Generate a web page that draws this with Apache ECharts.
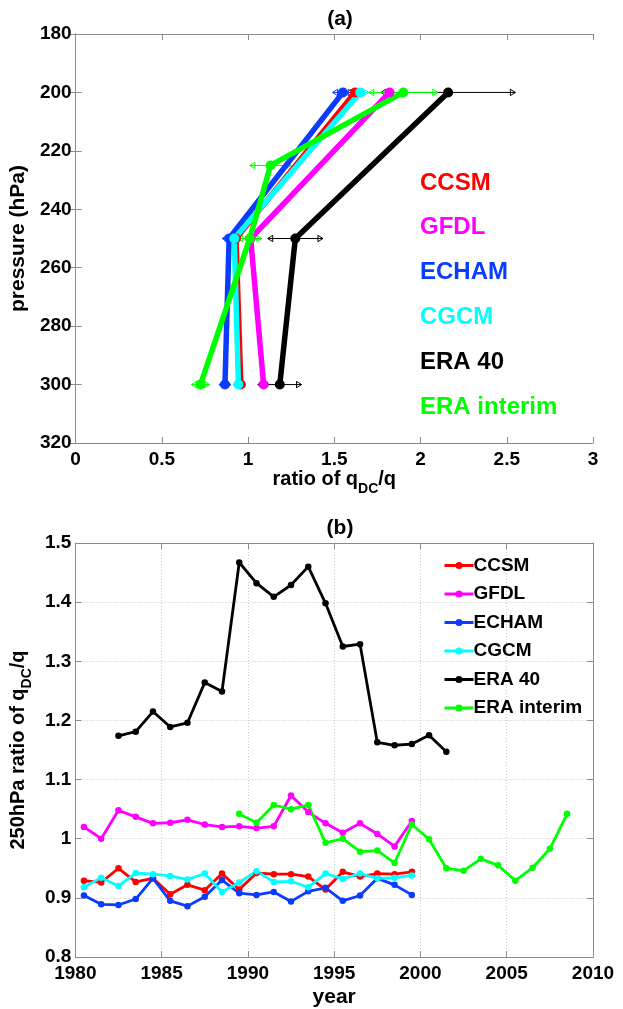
<!DOCTYPE html>
<html><head><meta charset="utf-8">
<script src="https://cdn.jsdelivr.net/npm/echarts@6/dist/echarts.min.js"></script>
<style>html,body{margin:0;padding:0;background:#fff}#c{width:623px;height:1009px}</style>
</head><body><div id="c"></div>
<script>
// ---------- shared ----------
const names = ['CCSM', 'GFDL', 'ECHAM', 'CGCM', 'ERA 40', 'ERA interim'];
const colors = ['#ff0000', '#ff00ff', '#0a3cff', '#00ffff', '#000000', '#00ff00'];

// ---------- panel (a): vertical profiles ----------
const xTicksA = [0, 0.5, 1, 1.5, 2, 2.5, 3];
const yTicksA = [180, 200, 220, 240, 260, 280, 300, 320];
const levelsModel = [200, 250, 300];
const levelsERAI = [200, 225, 250, 300];
const profCCSM = [1.62, 0.93, 0.958];
const profGFDL = [1.82, 1.015, 1.09];
const profECHAM = [1.55, 0.89, 0.866];
const profCGCM = [1.65, 0.92, 0.944];
const profERA40 = [2.16, 1.274, 1.184];
const profERAI = [1.90, 1.13, 1.01, 0.724];
const errCCSM = [0.05, 0.03, 0.03];
const errGFDL = [0.03, 0.03, 0.035];
const errECHAM = [0.06, 0.04, 0.035];
const errCGCM = [0.05, 0.04, 0.03];
const errERA40 = [0.39, 0.16, 0.126];
const errERAI = [0.2, 0.12, 0.07, 0.053];

// ---------- panel (b): 250 hPa time series ----------
const xTicksB = [1980, 1985, 1990, 1995, 2000, 2005, 2010];
const yTicksB = [0.8, 0.9, 1.0, 1.1, 1.2, 1.3, 1.4, 1.5];
const yearsModel = [1980.5, 1981.5, 1982.5, 1983.5, 1984.5, 1985.5, 1986.5, 1987.5, 1988.5, 1989.5,
  1990.5, 1991.5, 1992.5, 1993.5, 1994.5, 1995.5, 1996.5, 1997.5, 1998.5, 1999.5];
const yearsERA40 = [1982.5, 1983.5, 1984.5, 1985.5, 1986.5, 1987.5, 1988.5, 1989.5, 1990.5, 1991.5,
  1992.5, 1993.5, 1994.5, 1995.5, 1996.5, 1997.5, 1998.5, 1999.5, 2000.5, 2001.5];
const yearsERAI = [1989.5, 1990.5, 1991.5, 1992.5, 1993.5, 1994.5, 1995.5, 1996.5, 1997.5, 1998.5,
  1999.5, 2000.5, 2001.5, 2002.5, 2003.5, 2004.5, 2005.5, 2006.5, 2007.5, 2008.5];
const tsCCSM = [0.929, 0.926, 0.950, 0.927, 0.933, 0.906, 0.922, 0.913, 0.941, 0.914,
  0.942, 0.940, 0.940, 0.936, 0.914, 0.944, 0.936, 0.941, 0.940, 0.944];
const tsGFDL = [1.020, 1.000, 1.048, 1.037, 1.026, 1.027, 1.032, 1.024, 1.020, 1.021,
  1.018, 1.021, 1.073, 1.045, 1.026, 1.010, 1.026, 1.008, 0.987, 1.030];
const tsECHAM = [0.904, 0.889, 0.888, 0.898, 0.933, 0.895, 0.886, 0.902, 0.930, 0.908,
  0.905, 0.910, 0.894, 0.911, 0.917, 0.895, 0.904, 0.933, 0.922, 0.905];
const tsCGCM = [0.918, 0.934, 0.920, 0.942, 0.940, 0.937, 0.931, 0.941, 0.910, 0.926,
  0.945, 0.927, 0.928, 0.918, 0.941, 0.932, 0.941, 0.933, 0.934, 0.938];
const tsERA40 = [1.174, 1.181, 1.215, 1.189, 1.196, 1.264, 1.249, 1.467, 1.432, 1.409,
  1.429, 1.460, 1.398, 1.325, 1.329, 1.163, 1.158, 1.160, 1.175, 1.147];
const tsERAI = [1.042, 1.027, 1.057, 1.050, 1.057, 0.993, 1.000, 0.978, 0.980, 0.959,
  1.024, 0.999, 0.950, 0.946, 0.966, 0.955, 0.929, 0.951, 0.983, 1.042];

// ---------- build ----------
const zip2 = (a, b) => a.map((v, i) => [v, b[i]]);
const zip3 = (a, b, c) => a.map((v, i) => [v, b[i], c[i]]);

const profiles = [
  [profCCSM, levelsModel, errCCSM], [profGFDL, levelsModel, errGFDL], [profECHAM, levelsModel, errECHAM],
  [profCGCM, levelsModel, errCGCM], [profERA40, levelsModel, errERA40], [profERAI, levelsERAI, errERAI]
];
const tseries = [
  [yearsModel, tsCCSM], [yearsModel, tsGFDL], [yearsModel, tsECHAM],
  [yearsModel, tsCGCM], [yearsERA40, tsERA40], [yearsERAI, tsERAI]
];

const FONT = '"Liberation Sans", Arial, Helvetica, sans-serif';
const frameColor = '#8c8c8c';

function errRender(params, api) {
  const c = api.value(0), p = api.value(1), e = api.value(2);
  const L = api.coord([c - e, p]), R = api.coord([c + e, p]);
  const col = api.visual('color');
  const h = 3.2, w = 5;
  const st = { stroke: col, fill: 'none', lineWidth: 1 };
  return {
    type: 'group', children: [
      { type: 'line', shape: { x1: L[0], y1: L[1], x2: R[0], y2: R[1] }, style: st },
      { type: 'polygon', shape: { points: [[L[0], L[1]], [L[0] + w, L[1] - h], [L[0] + w, L[1] + h]] }, style: st },
      { type: 'polygon', shape: { points: [[R[0], R[1]], [R[0] - w, R[1] - h], [R[0] - w, R[1] + h]] }, style: st }
    ]
  };
}

const series = [];
tseries.forEach((s, i) => {
  series.push({
    name: names[i], type: 'line', xAxisIndex: 2, yAxisIndex: 2,
    data: zip2(s[0], s[1]), color: colors[i],
    symbol: 'circle', symbolSize: 6.5, showSymbol: true,
    lineStyle: { width: 2.8, color: colors[i] }, itemStyle: { color: colors[i] },
    animation: false, z: 3
  });
});
profiles.forEach((s, i) => {
  series.push({
    name: names[i], type: 'custom', xAxisIndex: 0, yAxisIndex: 0,
    data: zip3(s[0], s[1], s[2]), color: colors[i], itemStyle: { color: colors[i] },
    encode: { x: 0, y: 1 }, renderItem: errRender, animation: false, z: 2, silent: true
  });
});
profiles.forEach((s, i) => {
  series.push({
    name: names[i], type: 'line', xAxisIndex: 0, yAxisIndex: 0,
    data: zip2(s[0], s[1]), color: colors[i],
    symbol: 'circle', symbolSize: 10, showSymbol: true,
    lineStyle: { width: 5.5, color: colors[i] }, itemStyle: { color: colors[i] },
    animation: false, z: 3
  });
});

const tickLbl = { color: '#000', fontSize: 19, fontWeight: 'bold', fontFamily: FONT };
const nameRich = {
  n: { fontSize: 20, fontWeight: 'bold', fontFamily: FONT, color: '#000', lineHeight: 26, verticalAlign: 'top' },
  s: { fontSize: 14, fontWeight: 'bold', fontFamily: FONT, color: '#000', lineHeight: 14, verticalAlign: 'bottom' }
};
const nameStyle = { fontSize: 21, fontWeight: 'bold', fontFamily: FONT, color: '#000' };
const frameLine = { show: true, lineStyle: { color: frameColor, width: 1 } };
const inTick = { show: true, inside: true, length: 6, lineStyle: { color: frameColor } };
const dotted = { show: true, lineStyle: { color: '#c8c8c8', type: [1, 2], width: 1 } };

function valAxis(extra) {
  return Object.assign({ type: 'value', axisLine: frameLine, axisTick: inTick, splitLine: { show: false } }, extra);
}
const plainNum = v => String(Math.round(v * 1000) / 1000);

const option = {
  backgroundColor: '#fff',
  animation: false,
  title: [
    { text: '(a)', left: 335, top: 4, textAlign: 'center', textStyle: { fontSize: 21, fontWeight: 'bold', fontFamily: FONT, color: '#000' } },
    { text: '(b)', left: 335, top: 513, textAlign: 'center', textStyle: { fontSize: 21, fontWeight: 'bold', fontFamily: FONT, color: '#000' } }
  ],
  grid: [
    { left: 73, top: 34, width: 520, height: 409 },
    { left: 73, top: 543, width: 520, height: 415 }
  ],
  xAxis: [
    valAxis({ gridIndex: 0, min: xTicksA[0], max: xTicksA[xTicksA.length - 1], interval: xTicksA[1] - xTicksA[0],
      position: 'bottom', axisLabel: Object.assign({ margin: 7, formatter: plainNum }, tickLbl),
      name: '{n|ratio of q}{s|DC}{n|/q}', nameLocation: 'middle', nameGap: 25,
      nameTextStyle: { rich: nameRich } }),
    valAxis({ gridIndex: 0, min: xTicksA[0], max: xTicksA[xTicksA.length - 1], interval: xTicksA[1] - xTicksA[0],
      position: 'top', axisLabel: { show: false } }),
    valAxis({ gridIndex: 1, min: xTicksB[0], max: xTicksB[xTicksB.length - 1], interval: xTicksB[1] - xTicksB[0],
      position: 'bottom', axisLabel: Object.assign({ margin: 7, formatter: plainNum }, tickLbl), splitLine: dotted,
      name: 'year', nameLocation: 'middle', nameGap: 30, nameTextStyle: nameStyle }),
    valAxis({ gridIndex: 1, min: xTicksB[0], max: xTicksB[xTicksB.length - 1], interval: xTicksB[1] - xTicksB[0],
      position: 'top', axisLabel: { show: false } })
  ],
  yAxis: [
    valAxis({ gridIndex: 0, min: yTicksA[0], max: yTicksA[yTicksA.length - 1], interval: yTicksA[1] - yTicksA[0],
      inverse: true, position: 'left', axisLabel: Object.assign({ margin: 4, formatter: plainNum }, tickLbl),
      name: 'pressure (hPa)', nameLocation: 'middle', nameGap: 39, nameRotate: 90, nameTextStyle: nameStyle }),
    valAxis({ gridIndex: 0, min: yTicksA[0], max: yTicksA[yTicksA.length - 1], interval: yTicksA[1] - yTicksA[0],
      inverse: true, position: 'right', axisLabel: { show: false } }),
    valAxis({ gridIndex: 1, min: yTicksB[0], max: yTicksB[yTicksB.length - 1], interval: 0.1,
      position: 'left', axisLabel: Object.assign({ margin: 4, formatter: plainNum }, tickLbl), splitLine: dotted,
      name: '{n|250hPa ratio of q}{s|DC}{n|/q}', nameLocation: 'middle', nameGap: 39, nameRotate: 90,
      nameTextStyle: { rich: nameRich } }),
    valAxis({ gridIndex: 1, min: yTicksB[0], max: yTicksB[yTicksB.length - 1], interval: 0.1,
      position: 'right', axisLabel: { show: false } })
  ],
  legend: {
    data: names, orient: 'vertical', left: 438, top: 551,
    itemWidth: 29, itemHeight: 9, itemGap: 9.5,
    lineStyle: { width: 3 },
    textStyle: { fontSize: 19, fontWeight: 'bold', fontFamily: FONT, color: '#000', padding: [0, 0, 0, -5] },
    selectedMode: false
  },
  graphic: names.map((n, i) => ({
    type: 'text', left: 420, top: 171 + i * 44.8,
    style: { text: n, fill: colors[i], font: 'bold 24px ' + FONT }
  })),
  series: series
};

const chart = echarts.init(document.getElementById('c'), null, { renderer: 'canvas' });
chart.setOption(option);
</script>
</body></html>
